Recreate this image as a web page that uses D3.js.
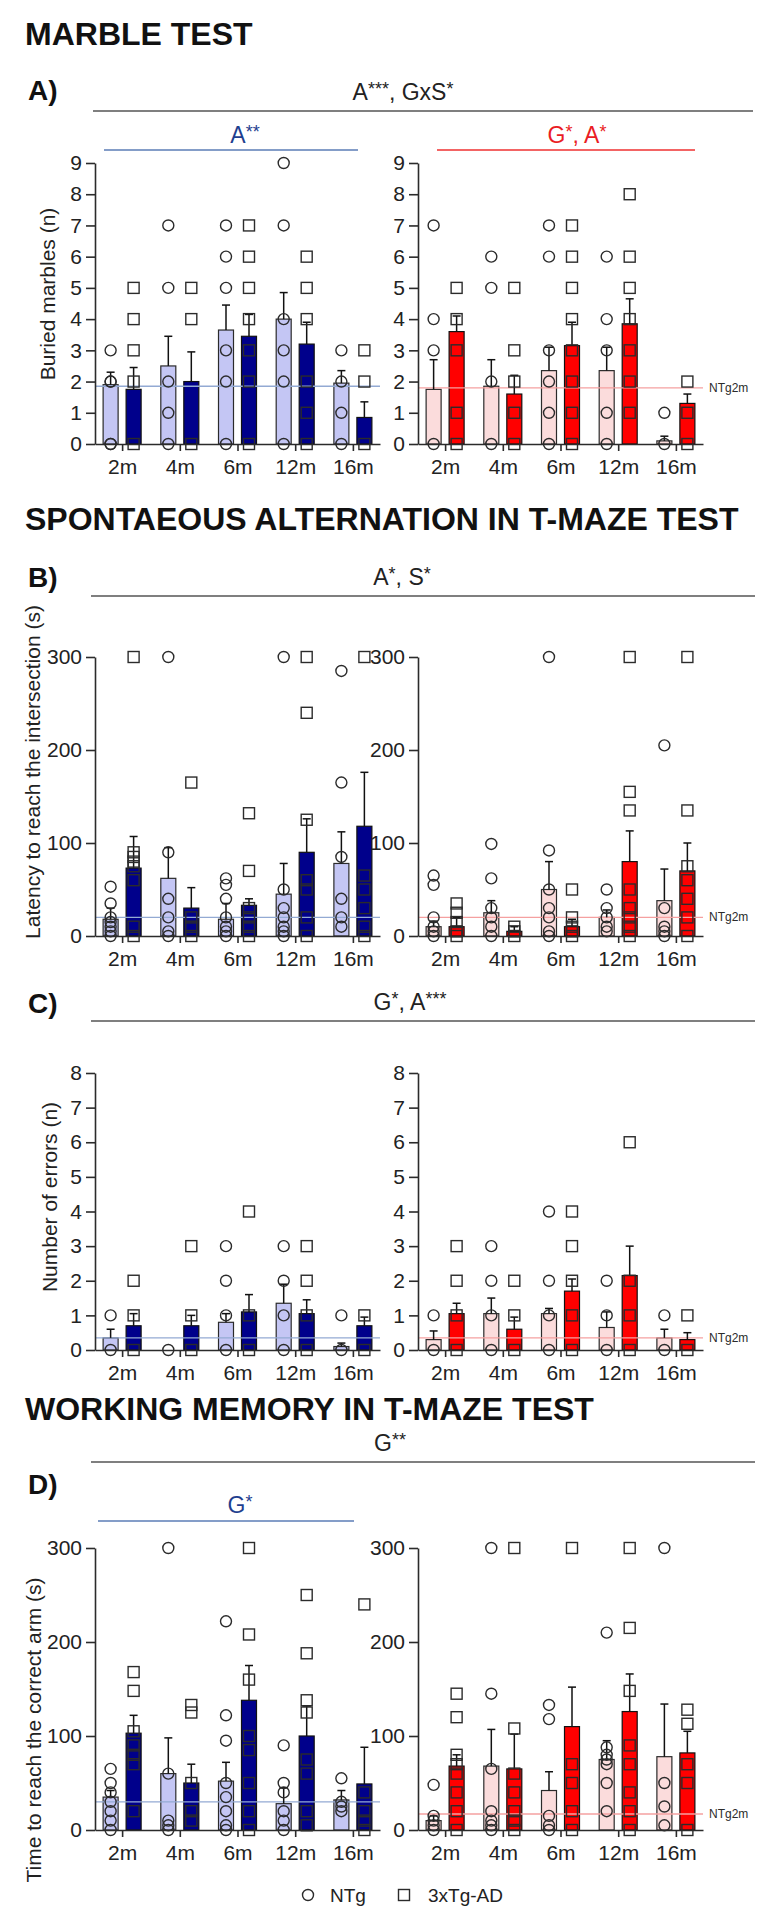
<!DOCTYPE html>
<html>
<head>
<meta charset="utf-8">
<script src="https://cdn.jsdelivr.net/npm/d3@7"></script>
<style>
  body { margin: 0; background: #fff; }
  svg { display: block; font-family: "Liberation Sans", Arial, sans-serif; }
</style>
</head>
<body>
<svg id="chart"></svg>
<script>
// categories
const ages = ["2m", "4m", "6m", "12m", "16m"];

// A) marble test - left (blue) and right (red)
const marbleNTgMeanL = [1.9, 2.5, 3.65, 4.0, 1.95];
const marbleNTgSemL = [0.4, 0.95, 0.8, 0.85, 0.4];
const marbleTgMeanL = [1.75, 2.0, 3.45, 3.2, 0.85];
const marbleTgSemL = [0.7, 0.95, 0.7, 0.7, 0.5];
const marbleNTgPtsL = [[3, 2, 2, 0, 0], [7, 5, 2, 1, 0], [7, 6, 5, 3, 2, 0], [9, 7, 4, 3, 2, 0], [3, 2, 1, 0]];
const marbleTgPtsL = [[5, 4, 3, 2, 0], [5, 4, 0], [7, 6, 5, 4, 3, 2, 0], [6, 5, 4, 2, 1, 0], [3, 2, 0]];
const marbleNTgMeanR = [1.75, 1.85, 2.35, 2.35, 0.1];
const marbleNTgSemR = [0.95, 0.85, 0.75, 0.75, 0.15];
const marbleTgMeanR = [3.6, 1.6, 3.15, 3.85, 1.3];
const marbleTgSemR = [0.5, 0.6, 0.75, 0.8, 0.3];
const marbleNTgPtsR = [[7, 4, 3, 0], [6, 5, 2, 0], [7, 6, 3, 2, 1, 0], [6, 4, 3, 1, 0], [1, 0]];
const marbleTgPtsR = [[5, 4, 3, 1, 0], [5, 3, 2, 1, 0], [7, 6, 5, 4, 3, 2, 1, 0], [8, 6, 5, 4, 3, 2, 1], [2, 1, 0]];

// B) latency to reach the intersection
const latNTgMeanL = [18, 62, 18, 45, 78];
const latNTgSemL = [12, 33, 17, 33, 34];
const latTgMeanL = [73, 30, 33, 90, 118];
const latTgSemL = [34, 22, 7, 36, 58];
const latNTgPtsL = [[53, 35, 20, 15, 10, 5, 0], [300, 90, 40, 20, 5, 0], [62, 55, 40, 20, 10, 5, 0], [300, 50, 30, 20, 10, 5, 0], [285, 165, 85, 40, 20, 10]];
const latTgPtsL = [[300, 90, 85, 80, 75, 60, 10, 0], [165, 20, 10, 0], [132, 70, 30, 20, 10, 0], [300, 240, 125, 60, 50, 20, 0], [300, 65, 50, 30, 10, 0]];
const latNTgMeanR = [10, 25, 50, 20, 38];
const latNTgSemR = [6, 13, 30, 8, 34];
const latTgMeanR = [10, 5, 10, 80, 70];
const latTgSemR = [10, 5, 8, 33, 30];
const latNTgPtsR = [[65, 55, 20, 10, 5, 0], [99, 62, 30, 20, 10, 0], [300, 92, 50, 30, 20, 5, 0], [50, 30, 20, 10, 5], [205, 30, 10, 5, 0]];
const latTgPtsR = [[35, 25, 15, 5, 0], [10, 5, 0], [50, 20, 10, 5, 0], [300, 155, 135, 50, 30, 20, 10, 0], [300, 135, 75, 60, 40, 20, 0]];

// C) number of errors
const errNTgMeanL = [0.35, 0, 0.8, 1.35, 0.1];
const errNTgSemL = [0.25, 0, 0.25, 0.55, 0.1];
const errTgMeanL = [0.7, 0.7, 1.1, 1.05, 0.7];
const errTgSemL = [0.35, 0.3, 0.5, 0.4, 0.25];
const errNTgPtsL = [[1, 0], [0], [3, 2, 1, 0], [3, 2, 1, 0], [1, 0]];
const errTgPtsL = [[2, 1, 0], [3, 1, 0], [4, 1, 0], [3, 2, 1, 0], [1, 0]];
const errNTgMeanR = [0.3, 1.05, 1.05, 0.65, 0.35];
const errNTgSemR = [0.25, 0.45, 0.15, 0.45, 0.25];
const errTgMeanR = [1.05, 0.6, 1.7, 2.15, 0.3];
const errTgSemR = [0.3, 0.35, 0.35, 0.85, 0.2];
const errNTgPtsR = [[1, 0], [3, 2, 1, 0], [4, 2, 1, 0], [2, 1, 0], [1, 0]];
const errTgPtsR = [[3, 2, 1, 0], [2, 1, 0], [4, 3, 2, 1, 0], [6, 2, 1, 0], [1, 0]];

// D) time to reach the correct arm
const wmNTgMeanL = [35, 60, 52, 28, 32];
const wmNTgSemL = [7, 38, 20, 17, 10];
const wmTgMeanL = [103, 50, 138, 100, 49];
const wmTgSemL = [19, 20, 37, 32, 39];
const wmNTgPtsL = [[65, 50, 40, 30, 20, 10, 0], [300, 60, 10, 5, 0], [222, 122, 95, 50, 35, 20, 5, 0], [90, 50, 40, 20, 10, 0], [55, 30, 25, 20]];
const wmTgPtsL = [[168, 148, 105, 90, 80, 70, 20], [133, 125, 50, 20, 10], [300, 208, 160, 100, 85, 50, 20, 0], [250, 188, 138, 125, 75, 60, 20, 5], [240, 40, 20, 10, 0]];
const wmNTgMeanR = [10, 68, 42, 75, 78];
const wmNTgSemR = [5, 39, 20, 20, 56];
const wmTgMeanR = [68, 65, 110, 126, 82];
const wmTgSemR = [12, 37, 42, 40, 23];
const wmNTgPtsR = [[48, 15, 10, 5, 0], [300, 145, 65, 20, 10, 5, 0], [133, 118, 15, 5, 0], [210, 88, 80, 75, 70, 50, 20], [300, 50, 25, 5]];
const wmTgPtsR = [[145, 120, 80, 70, 60, 40, 20, 0], [300, 108, 60, 40, 20, 10, 0], [300, 70, 50, 20, 0], [300, 215, 148, 90, 70, 40, 20, 0], [128, 113, 70, 50, 0]];

// NTg 2m reference levels
const refMarble = [1.85, 1.8];
const refLatency = [20, 20];
const refErrors = [0.35, 0.35];
const refWorkMem = [30, 17];

// y tick labels
const ticksMarble = [0, 1, 2, 3, 4, 5, 6, 7, 8, 9];
const ticksSeconds = [0, 100, 200, 300];
const ticksErrors = [0, 1, 2, 3, 4, 5, 6, 7, 8];

const svgWidth = 780;
const svgHeight = 1914;
const svg = d3.select("#chart").attr("width", svgWidth).attr("height", svgHeight);

const col = {
  ink: "#2b2b2b",
  blueLight: "#c4c6f4",
  blueDark: "#00008b",
  pinkLight: "#fbdcdc",
  red: "#ff0000",
  blueRef: "#93aad3",
  redRef: "#f5a0a0",
  blueStat: "#1f3f8f",
  blueStatLine: "#5b7db6",
  redStat: "#ea1c24",
  redStatLine: "#ef3030"
};

const leftAxisX = 95;
const rightAxisX = 418;
const plotW = 285;
const barW = 15;
const barOff = 11.5;
const fontSize = 21;

// draw one bar + dot panel
function drawPanel(p) {
  const g = svg.append("g");
  const x = d3.scalePoint().domain(ages).range([p.axisX, p.axisX + plotW]).padding(0.47);
  const y = d3.scaleLinear().domain([0, p.max]).range([p.y0, p.yTop]);

  // bars
  const rows = ages.map((a, i) => ({ a, i }));
  g.selectAll(".bn").data(rows).enter().append("rect")
    .attr("x", d => x(d.a) - barOff - barW / 2)
    .attr("y", d => y(p.ntgMean[d.i]))
    .attr("width", barW)
    .attr("height", d => y(0) - y(p.ntgMean[d.i]))
    .attr("fill", p.light).attr("stroke", col.ink).attr("stroke-width", 1.2);
  g.selectAll(".bt").data(rows).enter().append("rect")
    .attr("x", d => x(d.a) + barOff - barW / 2)
    .attr("y", d => y(p.tgMean[d.i]))
    .attr("width", barW)
    .attr("height", d => y(0) - y(p.tgMean[d.i]))
    .attr("fill", p.dark).attr("stroke", "#111").attr("stroke-width", 1.2);

  // NTg 2m reference line
  g.append("line")
    .attr("x1", p.axisX).attr("x2", p.axisX + plotW)
    .attr("y1", y(p.ref)).attr("y2", y(p.ref))
    .attr("stroke", p.refColor).attr("stroke-width", 1.3);
  if (p.refLabel) {
    g.append("text")
      .attr("x", p.axisX + plotW + 6).attr("y", y(p.ref) + 4)
      .attr("font-size", 12).attr("fill", col.ink).text("NTg2m");
  }

  // error bars (upper only)
  const errs = [];
  rows.forEach(d => {
    errs.push({ cx: x(d.a) - barOff, m: p.ntgMean[d.i], s: p.ntgSem[d.i] });
    errs.push({ cx: x(d.a) + barOff, m: p.tgMean[d.i], s: p.tgSem[d.i] });
  });
  const eg = g.selectAll(".err").data(errs.filter(e => e.s > 0)).enter().append("g")
    .attr("stroke", "#111").attr("stroke-width", 1.5);
  eg.append("line").attr("x1", d => d.cx).attr("x2", d => d.cx)
    .attr("y1", d => y(d.m)).attr("y2", d => y(d.m + d.s));
  eg.append("line").attr("x1", d => d.cx - 4).attr("x2", d => d.cx + 4)
    .attr("y1", d => y(d.m + d.s)).attr("y2", d => y(d.m + d.s));

  // individual animals
  const circ = [];
  const sq = [];
  rows.forEach(d => {
    p.ntgPts[d.i].forEach(v => circ.push({ cx: x(d.a) - barOff, v }));
    p.tgPts[d.i].forEach(v => sq.push({ cx: x(d.a) + barOff, v }));
  });
  g.selectAll(".pc").data(circ).enter().append("circle")
    .attr("cx", d => d.cx).attr("cy", d => y(d.v)).attr("r", 5.5)
    .attr("fill", "none").attr("stroke", col.ink).attr("stroke-width", 1.4);
  g.selectAll(".ps").data(sq).enter().append("rect")
    .attr("x", d => d.cx - 5.5).attr("y", d => y(d.v) - 5.5)
    .attr("width", 11).attr("height", 11)
    .attr("fill", "none").attr("stroke", col.ink).attr("stroke-width", 1.4);

  // axes
  const ya = g.append("g").attr("transform", `translate(${p.axisX},0)`)
    .call(d3.axisLeft(y).tickValues(p.ticks).tickSize(9).tickSizeOuter(0).tickPadding(4));
  const xa = g.append("g").attr("transform", `translate(0,${p.y0})`)
    .call(d3.axisBottom(x).tickSize(7).tickSizeOuter(0).tickPadding(8));
  [ya, xa].forEach(a => {
    a.selectAll("path, line").attr("stroke", col.ink).attr("stroke-width", 1.6);
    a.selectAll("text").attr("font-size", fontSize).attr("fill", "#222")
      .attr("font-family", "'Liberation Sans', Arial, sans-serif");
  });

  if (p.yLabel) {
    svg.append("text")
      .attr("transform", `translate(${p.labelX},${p.labelY}) rotate(-90)`)
      .attr("text-anchor", "middle").attr("dy", "0.35em")
      .attr("font-size", fontSize).attr("fill", "#222").text(p.yLabel);
  }
}

// text with raised asterisks
function statText(x, y, str, color) {
  const t = svg.append("text").attr("x", x).attr("y", y)
    .attr("text-anchor", "middle").attr("fill", color).attr("font-size", 23);
  const parts = str.match(/\*+|[^*]+/g);
  let raised = false;
  parts.forEach(s => {
    const star = s[0] === "*";
    const ts = t.append("tspan").text(s);
    if (star) ts.attr("font-size", 18);
    if (star && !raised) ts.attr("dy", -5);
    if (!star && raised) ts.attr("dy", 5);
    raised = star;
  });
}

function statLine(x1, x2, y, color) {
  svg.append("line").attr("x1", x1).attr("x2", x2).attr("y1", y).attr("y2", y)
    .attr("stroke", color).attr("stroke-width", 1.6);
}

function heading(str, y) {
  svg.append("text").attr("x", 25).attr("y", y).attr("font-size", 32)
    .attr("font-weight", "bold").attr("fill", "#111").text(str);
}

function panelLetter(str, y) {
  svg.append("text").attr("x", 28).attr("y", y).attr("font-size", 28)
    .attr("font-weight", "bold").attr("fill", "#111").text(str);
}

// ---- A) marble test ----
heading("MARBLE TEST", 45);
panelLetter("A)", 100);
statText(403, 100, "A***, GxS*", "#222");
statLine(93, 753, 111, "#555");
statText(245, 143, "A**", col.blueStat);
statLine(104, 358, 150, col.blueStatLine);
statText(577, 143, "G*, A*", col.redStat);
statLine(437, 695, 150, col.redStatLine);

const panelA = { max: 9, yTop: 163, y0: 444, ticks: ticksMarble };
drawPanel({ ...panelA, axisX: leftAxisX, ntgMean: marbleNTgMeanL, ntgSem: marbleNTgSemL,
  tgMean: marbleTgMeanL, tgSem: marbleTgSemL, ntgPts: marbleNTgPtsL, tgPts: marbleTgPtsL,
  ref: refMarble[0], light: col.blueLight, dark: col.blueDark, refColor: col.blueRef,
  yLabel: "Buried marbles (n)", labelX: 48, labelY: 294 });
drawPanel({ ...panelA, axisX: rightAxisX, ntgMean: marbleNTgMeanR, ntgSem: marbleNTgSemR,
  tgMean: marbleTgMeanR, tgSem: marbleTgSemR, ntgPts: marbleNTgPtsR, tgPts: marbleTgPtsR,
  ref: refMarble[1], light: col.pinkLight, dark: col.red, refColor: col.redRef, refLabel: true });

// ---- B) spontaneous alternation: latency ----
heading("SPONTAEOUS ALTERNATION IN T-MAZE TEST", 530);
panelLetter("B)", 587);
statText(402, 585, "A*, S*", "#222");
statLine(91, 755, 596, "#555");

const panelB = { max: 300, yTop: 657, y0: 936, ticks: ticksSeconds };
drawPanel({ ...panelB, axisX: leftAxisX, ntgMean: latNTgMeanL, ntgSem: latNTgSemL,
  tgMean: latTgMeanL, tgSem: latTgSemL, ntgPts: latNTgPtsL, tgPts: latTgPtsL,
  ref: refLatency[0], light: col.blueLight, dark: col.blueDark, refColor: col.blueRef,
  yLabel: "Latency to reach the intersection (s)", labelX: 33, labelY: 772 });
drawPanel({ ...panelB, axisX: rightAxisX, ntgMean: latNTgMeanR, ntgSem: latNTgSemR,
  tgMean: latTgMeanR, tgSem: latTgSemR, ntgPts: latNTgPtsR, tgPts: latTgPtsR,
  ref: refLatency[1], light: col.pinkLight, dark: col.red, refColor: col.redRef, refLabel: true });

// ---- C) number of errors ----
panelLetter("C)", 1013);
statText(410, 1010, "G*, A***", "#222");
statLine(91, 755, 1021, "#555");

const panelC = { max: 8, yTop: 1073, y0: 1350, ticks: ticksErrors };
drawPanel({ ...panelC, axisX: leftAxisX, ntgMean: errNTgMeanL, ntgSem: errNTgSemL,
  tgMean: errTgMeanL, tgSem: errTgSemL, ntgPts: errNTgPtsL, tgPts: errTgPtsL,
  ref: refErrors[0], light: col.blueLight, dark: col.blueDark, refColor: col.blueRef,
  yLabel: "Number of errors (n)", labelX: 50, labelY: 1197 });
drawPanel({ ...panelC, axisX: rightAxisX, ntgMean: errNTgMeanR, ntgSem: errNTgSemR,
  tgMean: errTgMeanR, tgSem: errTgSemR, ntgPts: errNTgPtsR, tgPts: errTgPtsR,
  ref: refErrors[1], light: col.pinkLight, dark: col.red, refColor: col.redRef, refLabel: true });

// ---- D) working memory ----
heading("WORKING MEMORY IN T-MAZE TEST", 1420);
statText(390, 1451, "G**", "#222");
statLine(91, 755, 1462, "#555");
panelLetter("D)", 1494);
statText(240, 1513, "G*", col.blueStat);
statLine(98, 354, 1521, col.blueStatLine);

const panelD = { max: 300, yTop: 1548, y0: 1830, ticks: ticksSeconds };
drawPanel({ ...panelD, axisX: leftAxisX, ntgMean: wmNTgMeanL, ntgSem: wmNTgSemL,
  tgMean: wmTgMeanL, tgSem: wmTgSemL, ntgPts: wmNTgPtsL, tgPts: wmTgPtsL,
  ref: refWorkMem[0], light: col.blueLight, dark: col.blueDark, refColor: col.blueRef,
  yLabel: "Time to reach the correct arm (s)", labelX: 34, labelY: 1730 });
drawPanel({ ...panelD, axisX: rightAxisX, ntgMean: wmNTgMeanR, ntgSem: wmNTgSemR,
  tgMean: wmTgMeanR, tgSem: wmTgSemR, ntgPts: wmNTgPtsR, tgPts: wmTgPtsR,
  ref: refWorkMem[1], light: col.pinkLight, dark: col.red, refColor: col.redRef, refLabel: true });

// legend
const legend = svg.append("g").attr("font-size", 19).attr("fill", "#222");
legend.append("circle").attr("cx", 308).attr("cy", 1895).attr("r", 5.5)
  .attr("fill", "none").attr("stroke", col.ink).attr("stroke-width", 1.4);
legend.append("text").attr("x", 330).attr("y", 1902).text("NTg");
legend.append("rect").attr("x", 398.5).attr("y", 1889.5).attr("width", 11).attr("height", 11)
  .attr("fill", "none").attr("stroke", col.ink).attr("stroke-width", 1.4);
legend.append("text").attr("x", 428).attr("y", 1902).text("3xTg-AD");
</script>
</body>
</html>
